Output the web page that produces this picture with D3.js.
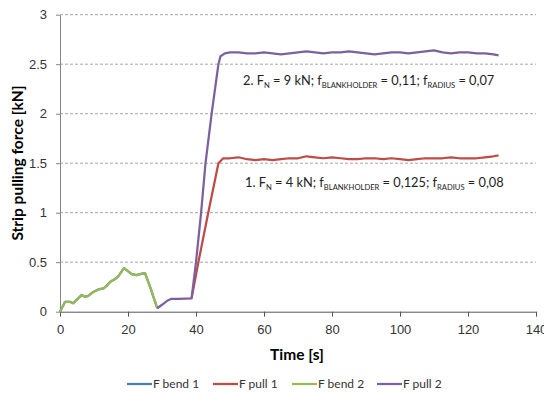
<!DOCTYPE html>
<html>
<head>
<meta charset="utf-8">
<script src="https://cdn.jsdelivr.net/npm/d3@7"></script>
<style>
  body { margin: 0; background: #fff; }
  svg { font-family: Lato, "Open Sans", sans-serif; }
</style>
</head>
<body>
<svg width="544" height="394"></svg>
<script>
// time [s] and force [kN]
var bend2Time = [0, 1.5, 2.9, 3.9, 4.9, 6.4, 7.3, 8.3, 9.8, 11.3, 12.8, 13.7, 14.7, 16.2, 17.2, 18.8, 19.6, 21.1, 22.5, 23.5, 25, 26.5, 28.6];
var bend2Force = [0, 0.10, 0.10, 0.085, 0.12, 0.17, 0.15, 0.16, 0.20, 0.225, 0.235, 0.26, 0.30, 0.33, 0.36, 0.44, 0.42, 0.38, 0.37, 0.38, 0.39, 0.25, 0.035];

// bend 1 sits underneath bend 2 and is not visible
var bend1Time = bend2Time.slice();
var bend1Force = bend2Force.slice();

var plateauTime = [50, 52.5, 55, 57.5, 60, 62.5, 65, 67.5, 70, 72.5, 75, 77.5, 80, 82.5, 85, 87.5, 90, 92.5, 95, 97.5, 100, 102.5, 105, 107.5, 110, 112.5, 115, 117.5, 120, 122.5, 125, 127.5, 129];

var pull1Time = [38.7, 40.7, 43.6, 46.6, 48].concat(plateauTime);
var pull1Force = [0.135, 0.5, 1.0, 1.5, 1.55,
  1.55, 1.56, 1.54, 1.53, 1.54, 1.53, 1.54, 1.55, 1.55, 1.57, 1.56, 1.55, 1.56, 1.55, 1.54, 1.54, 1.55,
  1.55, 1.54, 1.55, 1.54, 1.53, 1.54, 1.55, 1.55, 1.55, 1.56, 1.55, 1.55, 1.55, 1.56, 1.57, 1.58];

var pull2Time = [28.6, 30, 31.5, 32.8, 35, 38.7, 40, 41.5, 42.8, 44.6, 46.6, 47.2, 48.5].concat(plateauTime);
var pull2Force = [0.035, 0.07, 0.11, 0.13, 0.13, 0.135, 0.5, 1.0, 1.5, 2.0, 2.5, 2.58, 2.61,
  2.62, 2.62, 2.61, 2.61, 2.62, 2.61, 2.60, 2.61, 2.62, 2.63, 2.62, 2.61, 2.62, 2.62, 2.63, 2.62, 2.61,
  2.60, 2.61, 2.62, 2.62, 2.61, 2.62, 2.63, 2.64, 2.62, 2.61, 2.62, 2.62, 2.61, 2.61, 2.60, 2.59];

var seriesNames = ["F bend 1", "F pull 1", "F bend 2", "F pull 2"];
var seriesColors = ["#4a7ebb", "#be4b48", "#98b954", "#7d60a0"];
var xTicks = [0, 20, 40, 60, 80, 100, 120, 140];
var yTicks = [0, 0.5, 1, 1.5, 2, 2.5, 3];

var svg = d3.select("svg");

var x = d3.scaleLinear().domain([0, 140]).range([60, 536]);
var y = d3.scaleLinear().domain([0, 3]).range([311.7, 14.7]);

// gridlines
svg.append("g")
    .selectAll("line")
    .data(yTicks.slice(1))
    .enter().append("line")
    .attr("x1", x(0))
    .attr("x2", x(140))
    .attr("y1", function (d) { return y(d); })
    .attr("y2", function (d) { return y(d); })
    .attr("stroke", "#a6a6a6")
    .attr("stroke-width", 1)
    .attr("stroke-dasharray", "3,2");

var yAxis = svg.append("g")
    .attr("transform", "translate(" + x(0) + ",0)")
    .call(d3.axisLeft(y).tickValues(yTicks).tickFormat(function (d) { return d; })
        .tickSize(4).tickSizeOuter(0).tickPadding(9));
yAxis.select(".domain").attr("stroke", "#868686");
yAxis.selectAll(".tick line").attr("stroke", "#868686");
yAxis.selectAll("text").attr("font-size", 13).attr("fill", "#333");

var xAxis = svg.append("g")
    .attr("transform", "translate(0," + y(0) + ")")
    .call(d3.axisBottom(x).tickValues(xTicks).tickSize(5).tickSizeOuter(0).tickPadding(8));
xAxis.select(".domain").attr("stroke", "#555");
xAxis.selectAll(".tick line").attr("stroke", "#555");
xAxis.selectAll("text").attr("font-size", 13).attr("fill", "#333");

// axis titles
svg.append("text")
    .attr("x", 297)
    .attr("y", 360)
    .attr("text-anchor", "middle")
    .attr("font-size", 15.5)
    .attr("font-weight", "bold")
    .text("Time [s]");

svg.append("text")
    .attr("transform", "translate(23,163) rotate(-90)")
    .attr("text-anchor", "middle")
    .attr("font-size", 15.5)
    .attr("font-weight", "bold")
    .text("Strip pulling force [kN]");

// series
var line = d3.line()
    .x(function (d) { return x(d[0]); })
    .y(function (d) { return y(d[1]); });

var series = [
    d3.zip(bend1Time, bend1Force),
    d3.zip(pull1Time, pull1Force),
    d3.zip(bend2Time, bend2Force),
    d3.zip(pull2Time, pull2Force)
];

svg.append("g")
    .selectAll("path")
    .data(series)
    .enter().append("path")
    .attr("d", line)
    .attr("fill", "none")
    .attr("stroke", function (d, i) { return seriesColors[i]; })
    .attr("stroke-width", 2.25)
    .attr("stroke-linejoin", "round");

// annotations
function annotate(px, py, parts) {
    var t = svg.append("text")
        .attr("x", px)
        .attr("y", py)
        .attr("font-size", 12.8)
        .attr("fill", "#222");
    parts.forEach(function (p) {
        if (p.sub) {
            t.append("tspan").attr("font-size", 7.6).attr("dy", 3).text(p.sub);
        } else {
            t.append("tspan").attr("dy", p.after ? -3 : 0).text(p.txt);
        }
    });
}

annotate(243, 85, [
    {txt: "2. F"}, {sub: "N"}, {txt: " = 9 kN; f", after: true}, {sub: "BLANKHOLDER"},
    {txt: " = 0,11; f", after: true}, {sub: "RADIUS"}, {txt: " = 0,07", after: true}
]);
annotate(245, 187, [
    {txt: "1. F"}, {sub: "N"}, {txt: " = 4 kN; f", after: true}, {sub: "BLANKHOLDER"},
    {txt: " = 0,125; f", after: true}, {sub: "RADIUS"}, {txt: " = 0,08", after: true}
]);

// legend
var legendX = [127, 213, 292, 377];
var legend = svg.append("g")
    .selectAll("g")
    .data(seriesNames)
    .enter().append("g")
    .attr("transform", function (d, i) { return "translate(" + legendX[i] + ",384)"; });

legend.append("line")
    .attr("x1", 0).attr("x2", 25)
    .attr("stroke", function (d, i) { return seriesColors[i]; })
    .attr("stroke-width", 2.25);

legend.append("text")
    .attr("x", 26)
    .attr("dy", "0.35em")
    .attr("font-size", 12)
    .attr("fill", "#333")
    .text(function (d) { return d; });
</script>
</body>
</html>
